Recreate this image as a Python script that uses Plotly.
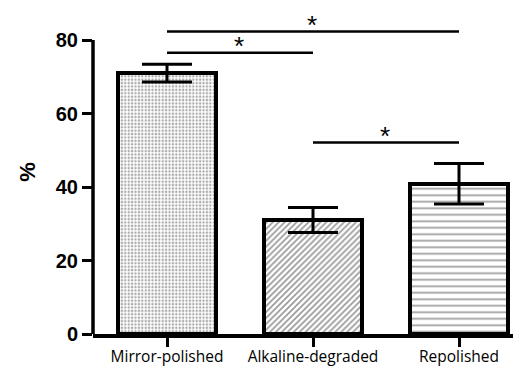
import plotly.graph_objects as go

categories = ["Mirror-polished", "Alkaline-degraded", "Repolished"]
means = [71.0, 31.0, 40.9]
errors = [2.4, 3.4, 5.5]
patterns = [".", "/", "-"]
tick_vals = [0, 20, 40, 60, 80]
# significance brackets: (from category index, to category index, y level)
sig_pairs = [(0, 2, 82.3), (0, 1, 76.5), (1, 2, 52.1)]

# page body has an 8px margin, so the figure is offset by (8, 8)
OFF = 8
W, H = 521 - OFF, 368 - OFF
ML, MR, MT, MB = 93 - OFF, 0, 10 - OFF, 34
plot_h = H - MT - MB
px_per_unit = 294 / 80.0
ymax = plot_h / px_per_unit

fig = go.Figure()
fig.add_trace(go.Bar(
    x=[0, 1, 2], y=means,
    width=0.67,
    marker=dict(
        color="white",
        line=dict(color="black", width=4),
        pattern=dict(shape=patterns, fgcolor=["#555555", "#333333", "#444444"], bgcolor="white",
                     size=[3.4, 4.2, 6.5], solidity=[0.4, 0.4, 0.28], fillmode="overlay"),
    ),
    error_y=dict(type="data", array=errors, visible=True, color="black",
                 thickness=3, width=25),
))

for a, b, yv in sig_pairs:
    fig.add_shape(type="line", xref="x", yref="y", x0=a, x1=b, y0=yv, y1=yv,
                  line=dict(color="black", width=2.5))
    fig.add_annotation(x=(a + b) / 2 - 0.01, y=yv, xref="x", yref="y", text="*",
                       showarrow=False, yanchor="bottom", yshift=-10,
                       font=dict(family="Liberation Sans", size=26, color="black"))

# y axis line only from 0 to 80
fig.add_shape(type="line", xref="paper", yref="paper", x0=0, x1=0,
              y0=0, y1=80 / ymax, line=dict(color="black", width=3.5))

fig.update_layout(
    width=W, height=H,
    margin=dict(l=ML, r=MR, t=MT, b=MB, pad=0, autoexpand=False),
    plot_bgcolor="white", paper_bgcolor="white",
    showlegend=False,
    bargap=0,
    xaxis=dict(
        range=[-74 / 146, (521 - 167) / 146],
        tickvals=[0, 1, 2], ticktext=categories,
        ticks="outside", ticklen=9, tickwidth=3, tickcolor="black",
        ticklabelstandoff=-3,
        showline=True, linecolor="black", linewidth=3.5,
        showgrid=False, zeroline=False, automargin=False,
        tickfont=dict(family="Open Sans", size=15.5, color="black"),
    ),
    yaxis=dict(
        range=[0, ymax],
        tickvals=tick_vals,
        ticks="outside", ticklen=10, tickwidth=3, tickcolor="black",
        showline=False, showgrid=False, zeroline=False, automargin=False,
        tickfont=dict(family="Liberation Sans", size=20, color="black", weight="bold"),
        title=dict(text="%", standoff=14,
                   font=dict(family="Liberation Sans", size=22, color="black", weight="bold")),
    ),
)

fig.write_html("out.html")
